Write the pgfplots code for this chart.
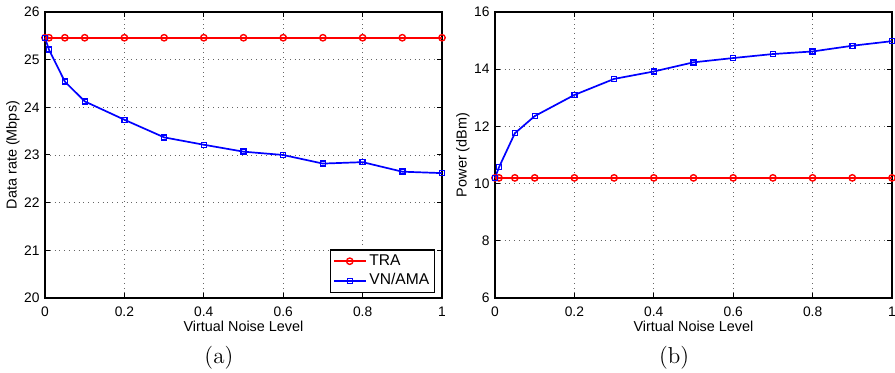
\documentclass[border=0pt]{standalone}
\usepackage{pgfplots}
\pgfplotsset{compat=1.18}
\usepackage{fontspec}
\setmainfont{Liberation Sans}
\newfontfamily\lmr{Latin Modern Roman}

\pgfplotsset{
  mystyle/.style={
    scale only axis, width=198.5pt, height=143pt,
    xmin=0, xmax=1,
    xtick={0,0.2,0.4,0.6,0.8,1},
    xticklabels={0,0.2,0.4,0.6,0.8,1},
    grid=major,
    major grid style={dotted, black!60, line width=0.45pt},
    tick align=inside, tick pos=both, major tick length=2.5pt,
    axis line style={line width=0.6pt},
    every tick/.style={black, line width=0.5pt},
    /pgf/number format/assume math mode=true,
    tick label style={font=\fontsize{6.9}{8}\selectfont},
    label style={font=\fontsize{7.2}{8}\selectfont},
    xticklabel style={yshift=-1pt},
    yticklabel style={xshift=0.8pt},
    xlabel={Virtual Noise Level},
    xlabel style={at={(axis description cs:0.5,0)}, anchor=center, yshift=-14pt},
    ylabel style={at={(axis description cs:-0.081,0.5)}, anchor=center},
    clip=false,
  },
  tra/.style={red, line width=0.85pt, mark=o, mark size=1.6pt, mark options={solid, line width=0.7pt}},
  vn/.style={blue, line width=0.85pt, mark=square, mark size=1.25pt, mark options={solid, line width=0.7pt}},
}

\begin{document}
\begin{tikzpicture}
\useasboundingbox (-22.5pt,-37.5pt) rectangle (425pt,149pt);

\begin{axis}[mystyle,
  at={(0pt,0pt)}, anchor=south west,
  ymin=20, ymax=26, ytick={20,21,22,23,24,25,26},
  ylabel={Data rate (Mbps)},
  legend cell align=left,
  legend style={at={(rel axis cs:0.9824,0.0175)}, anchor=south east,
    font=\fontsize{7.8}{9}\selectfont, draw=black, line width=0.6pt,
    inner xsep=1.2pt, inner ysep=0.8pt, row sep=0pt,
    nodes={inner sep=1.4pt}},
  legend image code/.code={\draw[mark repeat=2,mark phase=2] plot coordinates {(0pt,0pt) (8pt,0pt) (16pt,0pt)};},
]
\addplot[tra] coordinates {
(0,25.46) (0.01,25.46) (0.05,25.46) (0.1,25.46) (0.2,25.46) (0.3,25.46)
(0.4,25.46) (0.5,25.46) (0.6,25.46) (0.7,25.46) (0.8,25.46) (0.9,25.46) (1,25.46)};
\addlegendentry{TRA}
\addplot[vn] coordinates {
(0,25.46) (0.01,25.21) (0.05,24.54) (0.1,24.125) (0.2,23.74) (0.3,23.37)
(0.4,23.215) (0.5,23.07) (0.6,23.0) (0.7,22.82) (0.8,22.85) (0.9,22.65) (1,22.62)};
\addlegendentry{VN/AMA}
\node[font=\lmr\fontsize{11.5}{13}\selectfont, anchor=center] at (rel axis cs:0.438,0) [yshift=-30pt] {(a)};
\end{axis}

\begin{axis}[mystyle,
  at={(225pt,0pt)}, anchor=south west,
  ymin=6, ymax=16, ytick={6,8,10,12,14,16},
  ylabel={Power (dBm)},
]
\addplot[tra] coordinates {
(0,10.2) (0.01,10.2) (0.05,10.2) (0.1,10.2) (0.2,10.2) (0.3,10.2)
(0.4,10.2) (0.5,10.2) (0.6,10.2) (0.7,10.2) (0.8,10.2) (0.9,10.2) (1,10.2)};
\addplot[vn] coordinates {
(0,10.2) (0.01,10.57) (0.05,11.76) (0.1,12.36) (0.2,13.1) (0.3,13.66)
(0.4,13.92) (0.5,14.24) (0.6,14.39) (0.7,14.53) (0.8,14.62) (0.9,14.82) (1,14.98)};
\node[font=\lmr\fontsize{11.5}{13}\selectfont, anchor=center] at (rel axis cs:0.451,0) [yshift=-30pt] {(b)};
\end{axis}
\end{tikzpicture}
\end{document}
